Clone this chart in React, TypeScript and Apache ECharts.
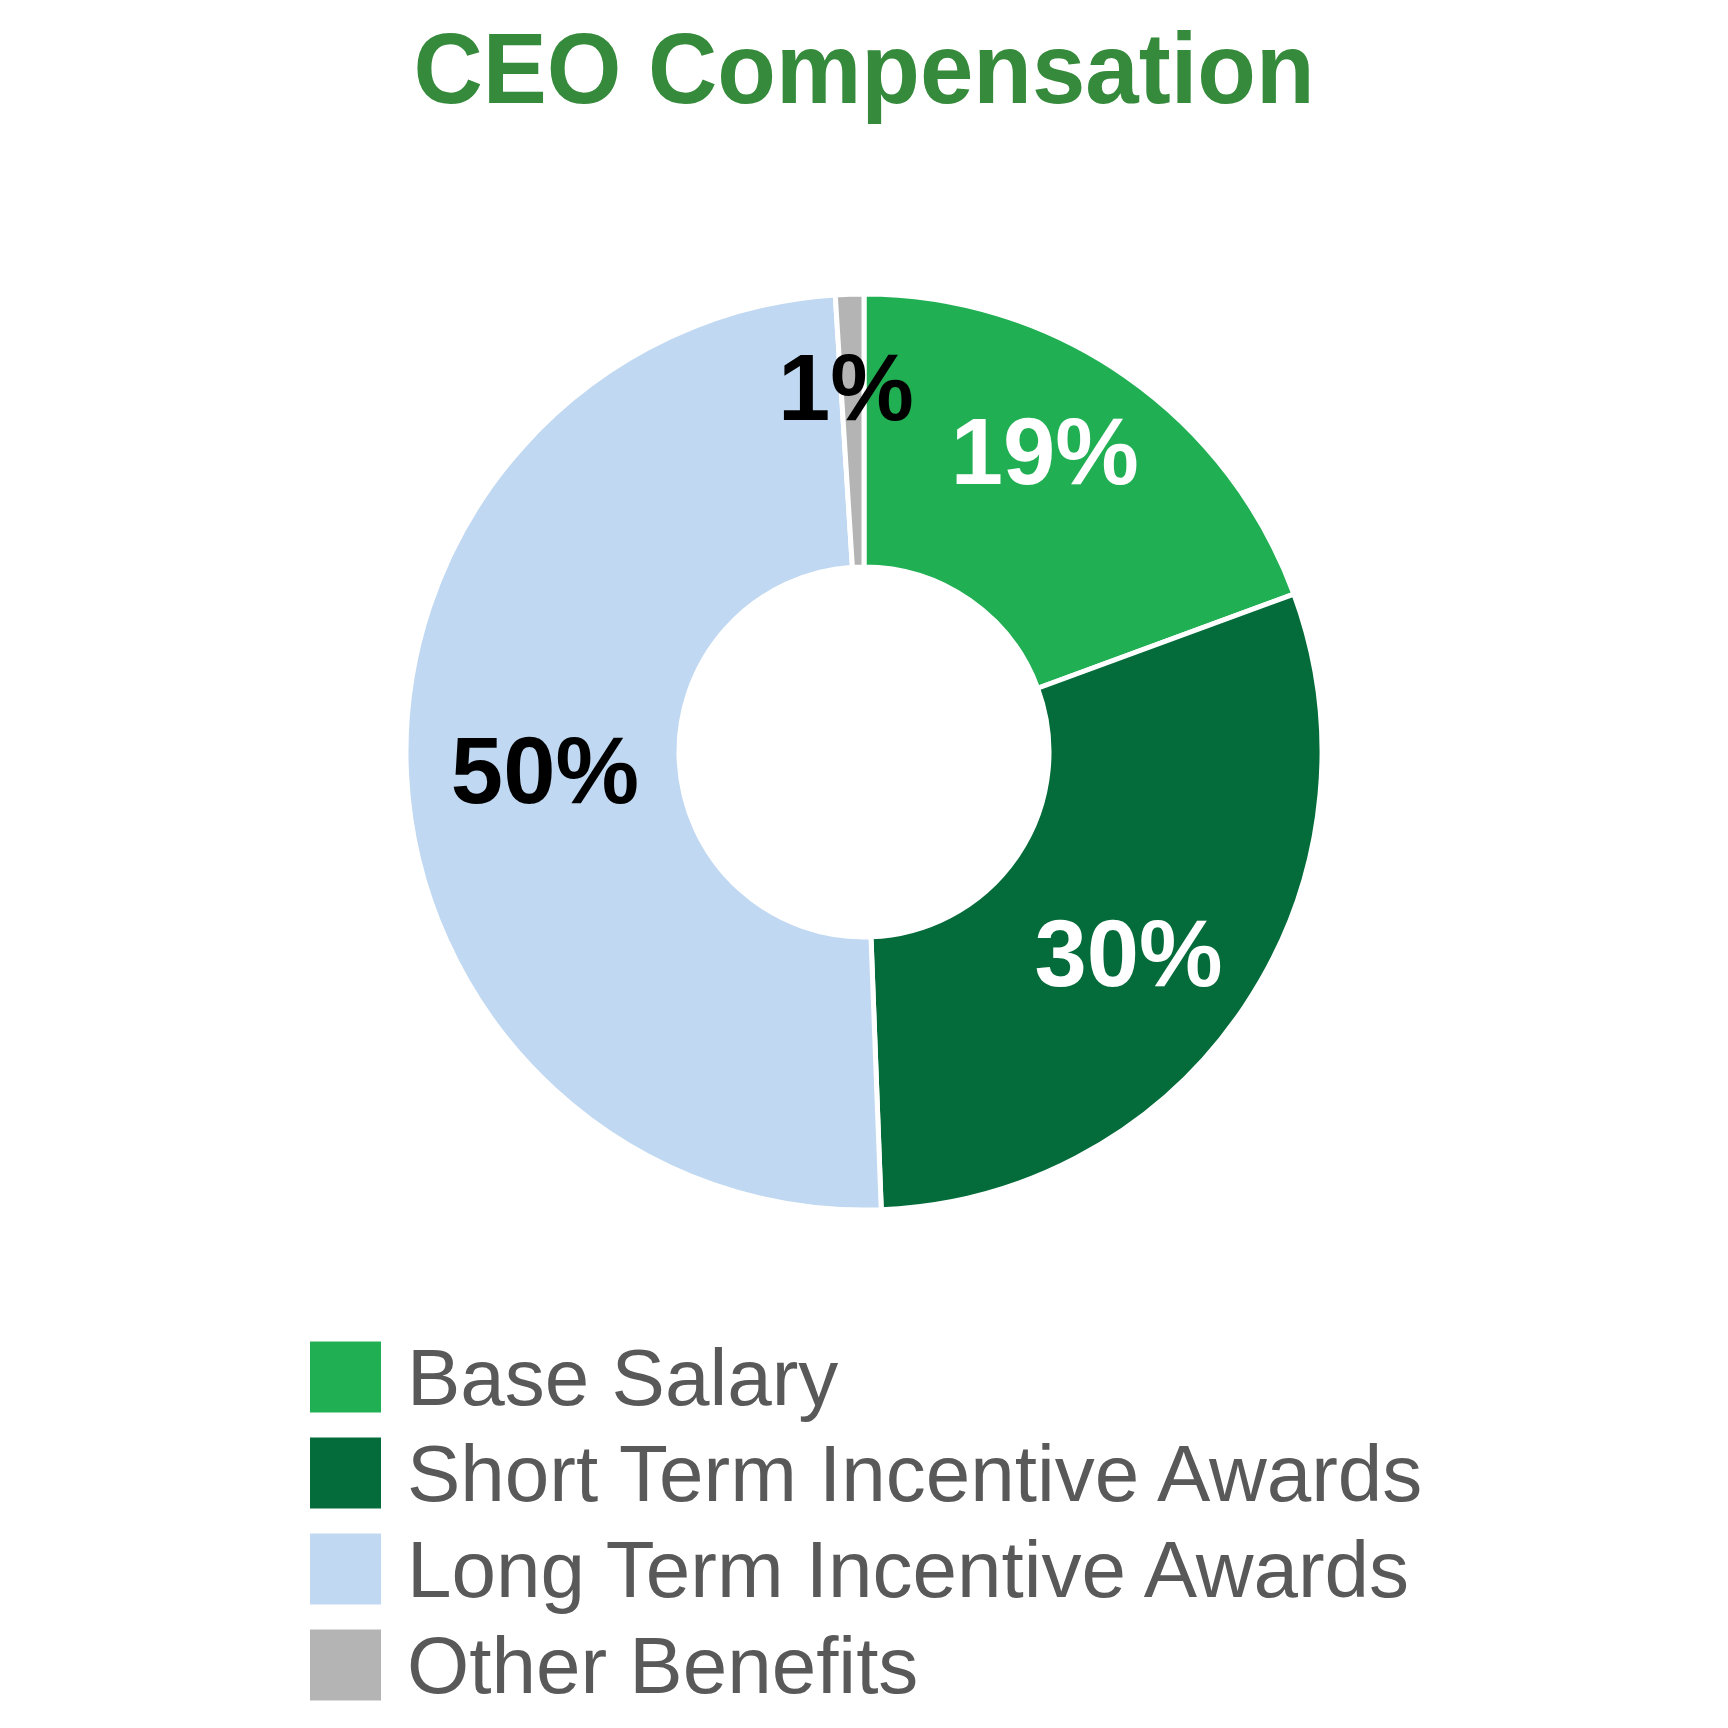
import React, { useEffect, useRef } from "react";
import * as echarts from "echarts";

const titleText = "CEO Compensation";
const categories = [
  "Base Salary",
  "Short Term Incentive Awards",
  "Long Term Incentive Awards",
  "Other Benefits",
];
const values = [19.4, 30.0, 49.6, 1.0];
const colors = ["#21AF53", "#046C3A", "#C0D8F1", "#B4B4B4"];
const labelColors = ["#FFFFFF", "#FFFFFF", "#000000", "#000000"];
const labelOffsets = [
  [-5, -34],
  [-5, 21],
  [5, 2],
  [-8, -40],
];

export default function App() {
  const ref = useRef<HTMLDivElement>(null);
  useEffect(() => {
    if (!ref.current) return;
    const chart = echarts.init(ref.current, undefined, { renderer: "svg" });
    chart.setOption({
      animation: false,
      backgroundColor: "#FFFFFF",
      graphic: [
        {
          type: "text",
          x: 864,
          y: 68,
          scaleY: 1.04,
          style: {
            text: titleText,
            fill: "#358A3B",
            font: "bold 96px 'Liberation Sans', Arial, sans-serif",
            textAlign: "center",
            textVerticalAlign: "middle",
          },
        },
      ],
      legend: {
        orient: "vertical",
        left: 308,
        top: 1337,
        height: 380,
        padding: 0,
        itemWidth: 73,
        itemHeight: 73,
        itemGap: 16,
        icon: "rect",
        selectedMode: false,
        data: categories,
        textStyle: {
          color: "#595959",
          fontSize: 80,
          fontFamily: "'Liberation Sans', Arial, sans-serif",
          padding: [6, 0, 0, 20],
        },
      },
      series: [
        {
          type: "pie",
          center: [864, 752],
          radius: [185, 458],
          startAngle: 90,
          clockwise: true,
          avoidLabelOverlap: false,
          itemStyle: { borderColor: "#FFFFFF", borderWidth: 5 },
          emphasis: { disabled: true },
          label: {
            show: true,
            position: "inside",
            formatter: (p: any) => Math.round(p.value) + "%",
            fontSize: 94,
            fontWeight: "bold",
            fontFamily: "'Liberation Sans', Arial, sans-serif",
          },
          labelLine: { show: false },
          labelLayout: (params: any) => ({
            dx: labelOffsets[params.dataIndex][0],
            dy: labelOffsets[params.dataIndex][1],
          }),
          data: categories.map((name, i) => ({
            name,
            value: values[i],
            itemStyle: { color: colors[i] },
            label: { color: labelColors[i] },
          })),
        },
      ],
    });
    return () => chart.dispose();
  }, []);
  return (
    <div
      ref={ref}
      style={{ position: "fixed", left: 0, top: 0, width: 1728, height: 1728 }}
    />
  );
}
